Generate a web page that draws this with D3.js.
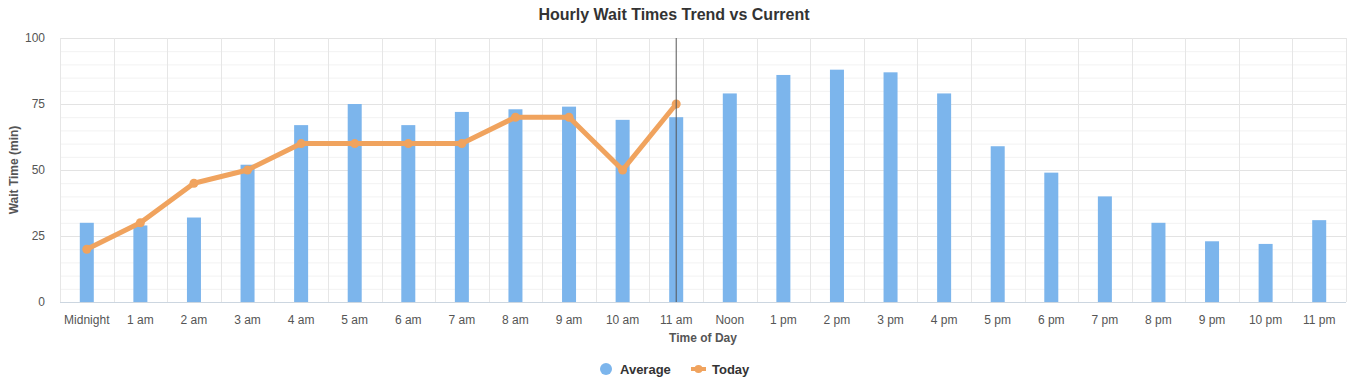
<!DOCTYPE html>
<html>
<head>
<meta charset="utf-8">
<script src="https://cdn.jsdelivr.net/npm/d3@7"></script>
<style>
    body { margin: 0; background: #fff; font-family: "Liberation Sans", Arial, sans-serif; }
    svg { display: block; }
</style>
</head>
<body>
<svg id="chart" width="1348" height="381"></svg>
<script>
// Chart data
const hours = ["Midnight", "1 am", "2 am", "3 am", "4 am", "5 am", "6 am", "7 am", "8 am", "9 am", "10 am", "11 am",
    "Noon", "1 pm", "2 pm", "3 pm", "4 pm", "5 pm", "6 pm", "7 pm", "8 pm", "9 pm", "10 pm", "11 pm"];
const averageWait = [30, 29, 32, 52, 67, 75, 67, 72, 73, 74, 69, 70, 79, 86, 88, 87, 79, 59, 49, 40, 30, 23, 22, 31];
const todayWait = [20, 30, 45, 50, 60, 60, 60, 60, 70, 70, 50, 75];
const currentHour = "11 am";
const yTicks = [0, 25, 50, 75, 100];

const svg = d3.select("#chart");
const margin = { top: 38, right: 2, bottom: 79, left: 60 };
const width = 1348 - margin.left - margin.right;
const height = 381 - margin.top - margin.bottom;

const x = d3.scaleBand().domain(hours).range([0, width]);
const y = d3.scaleLinear().domain([0, 100]).range([height, 0]);

const g = svg.append("g").attr("transform", `translate(${margin.left},${margin.top})`);

// Minor grid
g.append("g")
    .selectAll("line")
    .data(d3.range(0, 101, 5).filter(v => v % 25 !== 0))
    .join("line")
    .attr("x1", 0).attr("x2", width)
    .attr("y1", d => y(d) + 0.5).attr("y2", d => y(d) + 0.5)
    .attr("stroke", "#f2f2f2");

// Major grid
g.append("g")
    .selectAll("line")
    .data(yTicks)
    .join("line")
    .attr("x1", 0).attr("x2", width)
    .attr("y1", d => y(d) + 0.5).attr("y2", d => y(d) + 0.5)
    .attr("stroke", d => d === 0 ? "#ccd6e0" : "#e3e3e3");

// Vertical grid at category boundaries
g.append("g")
    .selectAll("line")
    .data(d3.range(0, hours.length + 1))
    .join("line")
    .attr("x1", i => Math.round(i * x.step()) + 0.5)
    .attr("x2", i => Math.round(i * x.step()) + 0.5)
    .attr("y1", 0).attr("y2", height)
    .attr("stroke", "#e6e6e6");

// Y tick labels
g.append("g")
    .selectAll("text")
    .data(yTicks)
    .join("text")
    .attr("x", -15)
    .attr("y", d => y(d))
    .attr("dy", "0.35em")
    .attr("text-anchor", "end")
    .attr("font-size", "12px")
    .attr("fill", "#555")
    .text(d => d);

// X tick labels
g.append("g")
    .selectAll("text")
    .data(hours)
    .join("text")
    .attr("x", d => x(d) + x.bandwidth() / 2)
    .attr("y", height + 22)
    .attr("text-anchor", "middle")
    .attr("font-size", "12px")
    .attr("fill", "#555")
    .text(d => d);

// Axis titles
g.append("text")
    .attr("x", width / 2)
    .attr("y", height + 40)
    .attr("text-anchor", "middle")
    .attr("font-size", "12px")
    .attr("font-weight", "bold")
    .attr("fill", "#555")
    .text("Time of Day");

g.append("text")
    .attr("transform", `translate(${-42},${height / 2}) rotate(-90)`)
    .attr("text-anchor", "middle")
    .attr("font-size", "12px")
    .attr("font-weight", "bold")
    .attr("fill", "#555")
    .text("Wait Time (min)");

// Title
svg.append("text")
    .attr("x", 674)
    .attr("y", 20)
    .attr("text-anchor", "middle")
    .attr("font-size", "16px")
    .attr("font-weight", "bold")
    .attr("fill", "#333")
    .text("Hourly Wait Times Trend vs Current");

// Bars
const barWidth = 14;
g.append("g")
    .selectAll("rect")
    .data(averageWait)
    .join("rect")
    .attr("x", (d, i) => x(hours[i]) + x.bandwidth() / 2 - barWidth / 2)
    .attr("y", d => y(d))
    .attr("width", barWidth)
    .attr("height", d => height - y(d))
    .attr("fill", "#7cb5ec");

// Today line
const line = d3.line()
    .x((d, i) => x(hours[i]) + x.bandwidth() / 2)
    .y(d => y(d));

g.append("path")
    .datum(todayWait)
    .attr("d", line)
    .attr("fill", "none")
    .attr("stroke", "#f0a35e")
    .attr("stroke-width", 5)
    .attr("stroke-linejoin", "round");

g.append("g")
    .selectAll("circle")
    .data(todayWait)
    .join("circle")
    .attr("cx", (d, i) => x(hours[i]) + x.bandwidth() / 2)
    .attr("cy", d => y(d))
    .attr("r", 4.5)
    .attr("fill", "#f0a35e");

// Current hour marker
const cx = x(currentHour) + x.bandwidth() / 2;
g.append("line")
    .attr("x1", cx).attr("x2", cx)
    .attr("y1", 0).attr("y2", height)
    .attr("stroke", "#555")
    .attr("stroke-width", 1);

// Legend
const legend = svg.append("g").attr("transform", "translate(0,369)");
legend.append("circle")
    .attr("cx", 606).attr("cy", 0).attr("r", 6)
    .attr("fill", "#7cb5ec");
legend.append("text")
    .attr("x", 620).attr("y", 0).attr("dy", "0.35em")
    .attr("font-size", "13px").attr("font-weight", "bold").attr("fill", "#333")
    .text("Average");
legend.append("line")
    .attr("x1", 691).attr("x2", 706).attr("y1", 0).attr("y2", 0)
    .attr("stroke", "#f0a35e").attr("stroke-width", 4);
legend.append("circle")
    .attr("cx", 698.5).attr("cy", 0).attr("r", 4)
    .attr("fill", "#f0a35e");
legend.append("text")
    .attr("x", 712).attr("y", 0).attr("dy", "0.35em")
    .attr("font-size", "13px").attr("font-weight", "bold").attr("fill", "#333")
    .text("Today");
</script>
</body>
</html>
